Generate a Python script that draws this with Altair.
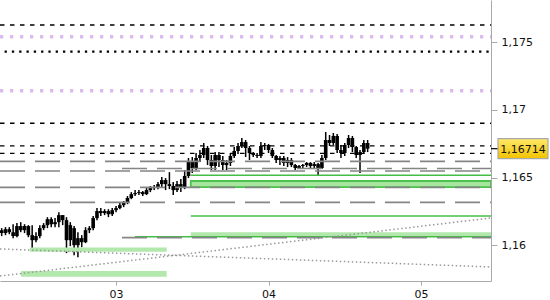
import altair as alt
import pandas as pd

# ---- OHLC data (EURUSD-like, 36-minute bars) ----
opens = [1.16112, 1.16090, 1.16119, 1.16097, 1.16068, 1.16142, 1.16112, 1.16142, 1.16075, 1.16038,
         1.16068, 1.16127, 1.16149, 1.16193, 1.16156, 1.16171, 1.16223, 1.16186, 1.16038, 1.16127,
         1.16001, 1.16053, 1.16023, 1.16112, 1.16127, 1.16201, 1.16253, 1.16238, 1.16253, 1.16230,
         1.16260, 1.16275, 1.16297, 1.16319, 1.16349, 1.16378, 1.16386, 1.16393, 1.16378, 1.16408,
         1.16423, 1.16430, 1.16452, 1.16482, 1.16452, 1.16438, 1.16408, 1.16452, 1.16430, 1.16512,
         1.16615, 1.16571, 1.16645, 1.16667, 1.16719, 1.16630, 1.16586, 1.16667, 1.16630, 1.16593,
         1.16608, 1.16660, 1.16697, 1.16734, 1.16763, 1.16719, 1.16682, 1.16667, 1.16660, 1.16734,
         1.16741, 1.16704, 1.16660, 1.16630, 1.16645, 1.16608, 1.16630, 1.16593, 1.16571, 1.16586,
         1.16593, 1.16608, 1.16586, 1.16600, 1.16571, 1.16645, 1.16778, 1.16756, 1.16808, 1.16704,
         1.16682, 1.16741, 1.16793, 1.16726, 1.16667, 1.16689, 1.16756]
highs = [1.16127, 1.16134, 1.16134, 1.16156, 1.16164, 1.16171, 1.16156, 1.16149, 1.16149, 1.16097,
         1.16149, 1.16164, 1.16208, 1.16208, 1.16201, 1.16245, 1.16223, 1.16208, 1.16171, 1.16142,
         1.16097, 1.16075, 1.16134, 1.16142, 1.16216, 1.16275, 1.16275, 1.16267, 1.16267, 1.16275,
         1.16290, 1.16312, 1.16327, 1.16364, 1.16393, 1.16408, 1.16408, 1.16401, 1.16423, 1.16438,
         1.16445, 1.16467, 1.16504, 1.16497, 1.16541, 1.16467, 1.16475, 1.16489, 1.16556, 1.16645,
         1.16652, 1.16682, 1.16704, 1.16756, 1.16734, 1.16667, 1.16689, 1.16689, 1.16660, 1.16630,
         1.16682, 1.16726, 1.16756, 1.16793, 1.16778, 1.16734, 1.16689, 1.16682, 1.16763, 1.16756,
         1.16748, 1.16719, 1.16667, 1.16660, 1.16660, 1.16652, 1.16645, 1.16600, 1.16593, 1.16600,
         1.16615, 1.16615, 1.16615, 1.16608, 1.16667, 1.16837, 1.16815, 1.16830, 1.16822, 1.16741,
         1.16756, 1.16815, 1.16808, 1.16734, 1.16704, 1.16778, 1.16778]
lows = [1.16068, 1.16075, 1.16082, 1.16053, 1.16060, 1.16097, 1.16090, 1.16060, 1.15979, 1.16023,
        1.16053, 1.16112, 1.16127, 1.16134, 1.16134, 1.16134, 1.16149, 1.15942, 1.15994, 1.15927,
        1.15912, 1.15986, 1.16016, 1.16090, 1.16112, 1.16186, 1.16216, 1.16223, 1.16208, 1.16216,
        1.16245, 1.16267, 1.16282, 1.16304, 1.16341, 1.16364, 1.16371, 1.16364, 1.16371, 1.16393,
        1.16408, 1.16415, 1.16430, 1.16408, 1.16415, 1.16371, 1.16393, 1.16393, 1.16415, 1.16497,
        1.16534, 1.16556, 1.16615, 1.16645, 1.16593, 1.16556, 1.16556, 1.16578, 1.16556, 1.16556,
        1.16586, 1.16645, 1.16675, 1.16719, 1.16652, 1.16630, 1.16652, 1.16645, 1.16645, 1.16704,
        1.16682, 1.16645, 1.16608, 1.16593, 1.16586, 1.16578, 1.16578, 1.16556, 1.16563, 1.16571,
        1.16578, 1.16571, 1.16571, 1.16519, 1.16563, 1.16630, 1.16734, 1.16741, 1.16682, 1.16645,
        1.16660, 1.16719, 1.16689, 1.16645, 1.16534, 1.16675, 1.16689]
closes = [1.16090, 1.16119, 1.16097, 1.16068, 1.16142, 1.16112, 1.16142, 1.16075, 1.16038, 1.16068,
          1.16127, 1.16149, 1.16193, 1.16156, 1.16171, 1.16223, 1.16186, 1.16038, 1.16149, 1.16001,
          1.16053, 1.16023, 1.16112, 1.16127, 1.16201, 1.16253, 1.16238, 1.16253, 1.16230, 1.16260,
          1.16275, 1.16297, 1.16319, 1.16349, 1.16378, 1.16386, 1.16393, 1.16378, 1.16408, 1.16423,
          1.16430, 1.16452, 1.16482, 1.16452, 1.16438, 1.16408, 1.16452, 1.16430, 1.16512, 1.16615,
          1.16571, 1.16645, 1.16667, 1.16719, 1.16630, 1.16586, 1.16667, 1.16630, 1.16593, 1.16608,
          1.16660, 1.16697, 1.16734, 1.16763, 1.16719, 1.16682, 1.16667, 1.16660, 1.16734, 1.16741,
          1.16704, 1.16660, 1.16630, 1.16645, 1.16608, 1.16630, 1.16593, 1.16571, 1.16586, 1.16593,
          1.16608, 1.16586, 1.16600, 1.16571, 1.16645, 1.16778, 1.16756, 1.16808, 1.16704, 1.16682,
          1.16741, 1.16793, 1.16726, 1.16667, 1.16689, 1.16756, 1.16714]
start_day = 2.25
bar_step = 0.025
times = [start_day + i * bar_step for i in range(len(closes))]

# ---- levels ----
black_dashed = [1.17628, 1.16902, 1.16734, 1.16680]
black_dotted = [1.17431]
purple_dotted = [1.17541, 1.17142]
gray_levels = [1.16620, 1.16567, 1.16549, 1.16428, 1.16317, 1.16057]
gray_starts = [2.239, 3.039, 2.239, 2.239, 2.239, 3.039]
green_lines = [1.16517, 1.16216, 1.16063]
green_starts = [3.49, 3.49, 3.124]
band_tops = [1.16475, 1.16097, 1.15983, 1.15810]
band_bottoms = [1.16430, 1.16063, 1.15953, 1.15768]
band_starts = [3.49, 3.49, 2.436, 2.377]
band_ends = [5.459, 5.459, 3.332, 3.332]
diag_t = [2.239, 5.459]
diag_falling = [1.15973, 1.15840]
diag_rising = [1.15773, 1.16202]

x_ticks = [3, 4, 5]
y_ticks = [1.16, 1.165, 1.17, 1.175]
last_label = "1,16714"

X_DOMAIN = [2.239, 5.459]
Y_DOMAIN = [1.157362, 1.178126]
W, H = 491, 281

xs = alt.Scale(domain=X_DOMAIN, nice=False, zero=False, padding=0)
ys = alt.Scale(domain=Y_DOMAIN, nice=False, zero=False, padding=0)


def X(field, **kw):
    return alt.X(field, scale=xs, title=None, **kw)


def Y(field, **kw):
    return alt.Y(field, scale=ys, title=None, **kw)


candles = pd.DataFrame(dict(t=times, o=opens, h=highs, l=lows, c=closes))

x_axis = alt.Axis(values=x_ticks, labelExpr="'0' + datum.value", grid=False,
                  domainColor="#a8a8a8", tickColor="#a8a8a8", tickSize=4,
                  labelFont="DejaVu Sans", labelFontSize=11, labelColor="#111",
                  labelPadding=3)
y_axis = alt.Axis(orient="right", values=y_ticks,
                  labelExpr="replace(format(datum.value, '.3~f'), '.', ',')",
                  grid=False, domainColor="#a8a8a8", tickColor="#a8a8a8", tickSize=6,
                  labelFont="DejaVu Sans", labelFontSize=11, labelColor="#111",
                  labelPadding=4)

base = alt.Chart(candles)

wicks = base.mark_rule(color="black", strokeWidth=1.5, clip=True).encode(
    x=X("t:Q", axis=x_axis),
    y=Y("l:Q", axis=y_axis),
    y2="h:Q",
)
bodies = base.mark_bar(color="black", size=3.6, clip=True).encode(
    x=X("t:Q"), y=Y("o:Q"), y2="c:Q",
)


def hlines(values, start, color, width, dash, offset=0):
    df = pd.DataFrame(dict(p=values, x0=[start] * len(values), x1=[X_DOMAIN[1]] * len(values)))
    return alt.Chart(df).mark_rule(color=color, strokeWidth=width, strokeDash=dash,
                                   strokeDashOffset=offset, clip=True).encode(
        x=X("x0:Q"), x2="x1:Q", y=Y("p:Q"))


gray_df = pd.DataFrame(dict(p=gray_levels, x0=gray_starts, x1=[X_DOMAIN[1]] * len(gray_levels)))
gray = alt.Chart(gray_df).mark_rule(color="#858585", strokeWidth=1.6, strokeDash=[25, 10],
                                    clip=True).encode(
    x=X("x0:Q"), x2="x1:Q", y=Y("p:Q"))

green_df = pd.DataFrame(dict(p=green_lines, x0=green_starts, x1=[X_DOMAIN[1]] * len(green_lines)))
greens = alt.Chart(green_df).mark_rule(color="#46be46", strokeWidth=1.5, clip=True).encode(
    x=X("x0:Q"), x2="x1:Q", y=Y("p:Q"))

bands_df = pd.DataFrame(dict(x0=band_starts, x1=band_ends, top=band_tops, bot=band_bottoms))
bands = alt.Chart(bands_df).mark_rect(color="#b2e8ab", clip=True).encode(
    x=X("x0:Q"), x2="x1:Q", y=Y("top:Q"), y2="bot:Q")

main_band = alt.Chart(bands_df.iloc[:1]).mark_rect(
    color="#a6e69e", stroke="#4cc24c", strokeWidth=1.8, clip=True).encode(
    x=X("x0:Q"), x2="x1:Q", y=Y("top:Q"), y2="bot:Q")

diag_df = pd.DataFrame(dict(t=diag_t * 2, p=diag_falling + diag_rising,
                            g=["f", "f", "r", "r"]))
diags = alt.Chart(diag_df).mark_line(color="#999999", strokeWidth=1.5,
                                     strokeDash=[1.5, 2.5], clip=True).encode(
    x=X("t:Q"), y=Y("p:Q"), detail="g:N")

blk_dash = hlines(black_dashed, X_DOMAIN[0], "black", 1.3, [4.5, 5.5])
blk_dot = hlines(black_dotted, X_DOMAIN[0] + 0.03, "black", 2.3, [2.3, 5])
purple = hlines(purple_dotted, X_DOMAIN[0], "#dcbcf0", 3.3, [3.3, 6.7])

last_df = pd.DataFrame(dict(c=[closes[-1]], label=[last_label]))
last_base = alt.Chart(last_df)
connector = last_base.mark_rule(color="black", strokeWidth=1.2).encode(
    x=alt.value(W), x2=alt.value(W + 7), y=Y("c:Q"))
box = last_base.mark_rect(
    color=alt.Gradient(gradient="linear", x1=0, x2=0, y1=0, y2=1,
                       stops=[alt.GradientStop(color="#ffe96a", offset=0),
                              alt.GradientStop(color="#f3c200", offset=1)]),
    stroke="#a9a9a9", strokeWidth=1.2, yOffset=-10, y2Offset=10).encode(
    x=alt.value(W + 7), x2=alt.value(W + 57), y=Y("c:Q"), y2="c:Q")
box_text = last_base.mark_text(font="DejaVu Sans", fontSize=11, color="#111",
                               align="center", baseline="middle", dy=1.5).encode(
    x=alt.value(W + 32), y=Y("c:Q"), text="label:N")

chart = alt.layer(
    wicks, bands, main_band, greens, diags, bodies, gray, blk_dash, blk_dot, purple,
    connector, box, box_text
).properties(width=W, height=H).configure(padding=0).configure_view(stroke=None)

chart.save("out.html", embed_options={"renderer": "svg", "actions": False})
